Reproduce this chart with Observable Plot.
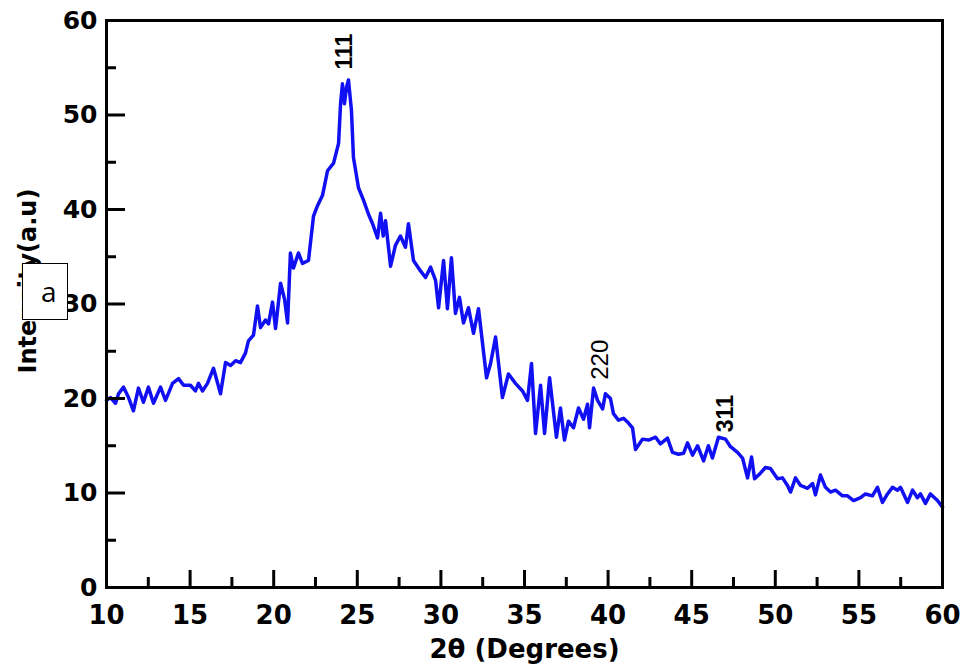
<!DOCTYPE html>
<html>
<head>
<meta charset="utf-8">
<script src="https://cdn.jsdelivr.net/npm/d3@7"></script>
<script src="https://cdn.jsdelivr.net/npm/@observablehq/plot@0.6"></script>
<style>
  html, body { margin: 0; padding: 0; background: #fff; }
  #wrap { position: relative; width: 962px; height: 669px; }
  #tag { position: absolute; left: 22px; top: 263px; width: 44px; height: 55px;
         border: 1px solid #000; background: #fff; box-sizing: content-box;
         font-family: "Open Sans", sans-serif; font-size: 28px; line-height: 55px;
         text-indent: 18px; color: #000; }
</style>
</head>
<body>
<div id="wrap"><div id="chart"></div><div id="tag">a</div></div>
<script>
const twoTheta = [
  10.00,10.24,10.54,10.72,11.02,11.32,11.61,11.91,12.21,12.51,12.81,13.23,13.53,13.95,14.31,14.61,
  15.02,15.32,15.50,15.74,16.04,16.40,16.82,17.12,17.42,17.72,18.01,18.31,18.49,18.79,19.03,19.21,
  19.51,19.69,19.93,20.11,20.41,20.65,20.83,21.00,21.18,21.48,21.72,22.08,22.38,22.62,22.92,23.22,
  23.58,23.88,24.00,24.11,24.23,24.35,24.47,24.65,24.77,25.07,25.37,25.67,25.91,26.21,26.39,26.55,
  26.69,26.99,27.28,27.58,27.88,28.06,28.36,28.78,29.08,29.38,29.68,29.86,30.16,30.39,30.63,30.87,
  31.11,31.35,31.65,31.95,32.25,32.73,32.97,33.27,33.68,34.04,34.46,34.88,35.18,35.42,35.66,35.96,
  36.20,36.50,36.91,37.15,37.39,37.63,37.93,38.23,38.53,38.77,38.89,39.13,39.37,39.67,39.84,40.14,
  40.32,40.62,40.92,41.22,41.46,41.64,42.06,42.42,42.84,43.13,43.55,43.85,44.21,44.51,44.75,45.05,
  45.35,45.71,46.00,46.24,46.60,47.02,47.32,47.74,48.04,48.34,48.58,48.76,49.11,49.41,49.71,50.13,
  50.43,50.73,50.91,51.21,51.51,51.93,52.23,52.40,52.70,53.00,53.30,53.60,54.02,54.32,54.68,55.10,
  55.39,55.81,56.11,56.41,56.71,57.01,57.31,57.49,57.91,58.21,58.50,58.68,58.98,59.28,59.70,60.00
];
const intensity = [
  19.8,20.1,19.5,20.5,21.2,20.1,18.7,21.1,19.6,21.2,19.5,21.2,19.8,21.6,22.1,21.4,
  21.4,20.8,21.6,20.8,21.6,23.2,20.5,23.8,23.5,24.0,23.8,24.8,26.1,26.7,29.8,27.5,
  28.3,27.9,30.2,27.4,32.2,30.5,28.0,35.4,33.8,35.4,34.3,34.6,39.3,40.4,41.5,44.1,
  44.9,47.0,51.2,53.3,51.2,52.9,53.7,50.5,45.5,42.3,41.0,39.5,38.5,37.0,39.6,37.2,
  38.8,34.0,36.2,37.2,36.0,38.5,34.6,33.5,32.8,33.9,32.5,29.6,34.6,29.5,34.9,29.0,
  30.7,28.0,29.6,26.9,29.5,22.2,23.7,26.5,20.1,22.6,21.6,20.8,19.8,23.7,16.3,21.4,
  16.3,22.2,15.9,19.0,15.6,17.6,16.9,19.0,17.8,19.4,16.9,21.1,19.8,18.9,20.5,20.0,
  18.4,17.7,17.9,17.4,16.9,14.6,15.7,15.6,15.9,15.2,15.8,14.3,14.1,14.2,15.3,14.0,
  15.0,13.4,15.0,13.7,15.9,15.7,14.9,14.3,13.7,11.6,13.8,11.5,12.1,12.7,12.6,11.5,
  11.6,10.8,10.1,11.6,10.8,10.5,11.0,9.8,11.9,10.6,10.1,10.3,9.7,9.7,9.2,9.5,
  9.9,9.7,10.6,9.0,9.9,10.6,10.3,10.6,9.0,10.3,9.5,9.9,8.9,9.9,9.2,8.5
];
const xTickLabels = [10, 15, 20, 25, 30, 35, 40, 45, 50, 55, 60];
const xMinorTicks = [12.5, 17.5, 22.5, 27.5, 32.5, 37.5, 42.5, 47.5, 52.5, 57.5];
const yTickLabels = [0, 10, 20, 30, 40, 50, 60];
const yMinorTicks = [5, 15, 25, 35, 45, 55];
const peakNames = ["111", "220", "311"];
const peakX = [24.23, 39.55, 47.02];
const peakY = [56.7, 24.1, 18.4];

const rows = twoTheta.map((t, i) => ({t, v: intensity[i]}));
const peaks = peakNames.map((n, i) => ({n, x: peakX[i], y: peakY[i]}));
const boldPeaks = peaks.filter(p => p.n !== "220");
const plainPeaks = peaks.filter(p => p.n === "220");

const W = 962, H = 669, mL = 106, mR = 20, mT = 20, mB = 82;
const innerW = W - mL - mR, innerH = H - mT - mB;

const chart = Plot.plot({
  width: W, height: H,
  marginLeft: mL, marginRight: mR, marginTop: mT, marginBottom: mB,
  style: {fontFamily: "DejaVu Sans, sans-serif", background: "#fff", color: "#000", overflow: "visible"},
  x: {domain: [10, 60]},
  y: {domain: [0, 60]},
  marks: [
    Plot.line(rows, {x: "t", y: "v", stroke: "#1010f2", strokeWidth: 3.5, strokeLinejoin: "round"}),
    Plot.tickY(yTickLabels, {y: d => d, stroke: "#000", strokeWidth: 3, insetRight: innerW - 19}),
    Plot.tickY(yMinorTicks, {y: d => d, stroke: "#000", strokeWidth: 3, insetRight: innerW - 10}),
    Plot.tickX(xTickLabels, {x: d => d, stroke: "#000", strokeWidth: 3, insetTop: innerH - 17}),
    Plot.tickX(xMinorTicks, {x: d => d, stroke: "#000", strokeWidth: 3, insetTop: innerH - 10}),
    Plot.frame({stroke: "#000", strokeWidth: 3}),
    Plot.axisX({ticks: xTickLabels, tickSize: 0, tickPadding: 18, label: null,
      fontSize: 26, fontWeight: "bold", tickFormat: d => String(d)}),
    Plot.axisY({ticks: yTickLabels, tickSize: 0, tickPadding: 9, label: null,
      fontSize: 25, fontWeight: "bold", tickFormat: d => String(d)}),
    Plot.text(boldPeaks, {x: "x", y: "y", text: "n", rotate: -90, fill: "#000",
      fontFamily: "Liberation Sans, Arial, sans-serif", fontWeight: "bold", fontSize: 23,
      textAnchor: "middle", lineAnchor: "middle"}),
    Plot.text(plainPeaks, {x: "x", y: "y", text: "n", rotate: -90, fill: "#000",
      fontFamily: "Liberation Sans, Arial, sans-serif", fontWeight: "normal", fontSize: 24,
      textAnchor: "middle", lineAnchor: "middle"}),
    Plot.text(["2θ (Degrees)"], {frameAnchor: "bottom", dy: 62, text: d => d, fill: "#000",
      fontSize: 26, fontWeight: "bold", lineAnchor: "middle"}),
    Plot.text(["Intensity(a.u)"], {frameAnchor: "left", dx: -78, dy: -23, rotate: -90, text: d => d,
      fill: "#000", fontSize: 24, fontWeight: "bold", textAnchor: "middle", lineAnchor: "middle"})
  ]
});
document.getElementById("chart").appendChild(chart);
</script>
</body>
</html>
